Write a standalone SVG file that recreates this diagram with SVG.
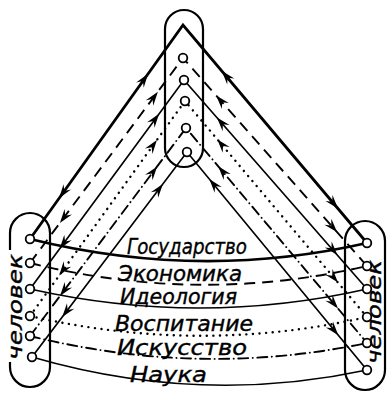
<svg xmlns="http://www.w3.org/2000/svg" xmlns:xlink="http://www.w3.org/1999/xlink" width="387" height="393" viewBox="0 0 387 393">
<style>
  .ln { fill: none; stroke: #000; }
  .s0 { stroke-width: 2.8; }
  .s1 { stroke-width: 1.9; stroke-dasharray: 11 7; }
  .s2 { stroke-width: 1.7; }
  .s3 { stroke-width: 2.4; stroke-dasharray: 0.1 6.5; stroke-linecap: round; }
  .s4 { stroke-width: 1.9; stroke-dasharray: 10 4.5 0.1 4.5; stroke-linecap: round; }
  .s5 { stroke-width: 1.7; }
  .cap { fill: none; stroke: #000; stroke-width: 2.2; }
  .nd { fill: #fff; stroke: #000; stroke-width: 1.8; }
  .lbl { font-family: "DejaVu Sans", "Liberation Sans", sans-serif; font-style: italic; font-size: 22px; fill: #000; stroke: #000; stroke-width: 0.4; }
  .hum { font-family: "DejaVu Sans", "Liberation Sans", sans-serif; font-style: italic; font-size: 20px; fill: #000; stroke: #000; stroke-width: 0.4; }
</style>
<defs>
  <path id="ah" d="M0,0 L-14,-4.6 L-9,0 L-14,4.6 Z" fill="#000"/>
</defs>

<g id="connectors">
  <path class="ln s0" d="M30,239 L183,25 L367,243"/>
  <path class="ln s1" d="M30,263 L183,58 L367,266"/>
  <path class="ln s2" d="M30,289 L184,80 L367,289"/>
  <path class="ln s3" d="M30,316 L185,101 L367,317"/>
  <path class="ln s4" d="M30,336 L186,128 L367,343"/>
  <path class="ln s5" d="M32,357 L187,152 L367,370"/>
  <path class="ln s0" d="M30,239 Q200,281 367,243"/>
  <path class="ln s1" d="M30,263 Q200,305 367,266"/>
  <path class="ln s2" d="M30,289 Q200,327 367,289"/>
  <path class="ln s3" d="M30,316 Q200,355 367,317"/>
  <path class="ln s4" d="M30,336 Q200,378 367,343"/>
  <path class="ln s5" d="M32,357 Q200,406 367,370"/>
  <use xlink:href="#ah" transform="translate(148.1,73.8) rotate(-54.4)"/>
  <use xlink:href="#ah" transform="translate(157.9,91.7) rotate(-53.3)"/>
  <use xlink:href="#ah" transform="translate(159.1,113.8) rotate(-53.6)"/>
  <use xlink:href="#ah" transform="translate(156.9,139.9) rotate(-54.2)"/>
  <use xlink:href="#ah" transform="translate(157.2,166.4) rotate(-53.1)"/>
  <use xlink:href="#ah" transform="translate(162.9,183.9) rotate(-52.9)"/>
  <use xlink:href="#ah" transform="translate(59.1,198.3) rotate(125.6)"/>
  <use xlink:href="#ah" transform="translate(59.9,222.9) rotate(126.7)"/>
  <use xlink:href="#ah" transform="translate(59.7,248.7) rotate(126.4)"/>
  <use xlink:href="#ah" transform="translate(59.2,275.4) rotate(125.8)"/>
  <use xlink:href="#ah" transform="translate(60,296) rotate(126.9)"/>
  <use xlink:href="#ah" transform="translate(62.2,317.1) rotate(127.1)"/>
  <use xlink:href="#ah" transform="translate(221.7,70.8) rotate(-130.2)"/>
  <use xlink:href="#ah" transform="translate(216.1,95.5) rotate(-131.5)"/>
  <use xlink:href="#ah" transform="translate(216.9,117.6) rotate(-131.2)"/>
  <use xlink:href="#ah" transform="translate(217.2,139.2) rotate(-130.1)"/>
  <use xlink:href="#ah" transform="translate(218.2,166.3) rotate(-130.1)"/>
  <use xlink:href="#ah" transform="translate(209.3,179) rotate(-129.5)"/>
  <use xlink:href="#ah" transform="translate(338,208.6) rotate(49.8)"/>
  <use xlink:href="#ah" transform="translate(337.2,232.3) rotate(48.5)"/>
  <use xlink:href="#ah" transform="translate(337.4,255.1) rotate(48.8)"/>
  <use xlink:href="#ah" transform="translate(338,282.6) rotate(49.9)"/>
  <use xlink:href="#ah" transform="translate(338,308.6) rotate(49.9)"/>
  <use xlink:href="#ah" transform="translate(338.3,335.3) rotate(50.5)"/>
</g>

<g id="top">
  <rect class="cap" x="165" y="10" width="38" height="157" rx="19"/>
  <circle class="nd" cx="183" cy="58" r="4.3"/>
  <circle class="nd" cx="184" cy="80" r="4.3"/>
  <circle class="nd" cx="185" cy="101" r="4.3"/>
  <circle class="nd" cx="186" cy="128" r="4.3"/>
  <circle class="nd" cx="187" cy="152" r="4.3"/>
</g>

<g id="left-person">
  <path class="cap" d="M10,250 V233 A20,20 0 0 1 50,233 V367 A20,20 0 0 1 10,367 V362"/>
  <circle class="nd" cx="30" cy="239" r="4.3"/>
  <circle class="nd" cx="30" cy="263" r="4.3"/>
  <circle class="nd" cx="30" cy="289" r="4.3"/>
  <circle class="nd" cx="30" cy="316" r="4.3"/>
  <circle class="nd" cx="30" cy="336" r="4.3"/>
  <circle class="nd" cx="32" cy="357" r="4.3"/>
  <text class="hum" transform="translate(22,360) rotate(-90)" textLength="106" lengthAdjust="spacingAndGlyphs">человек</text>
</g>

<g id="right-person">
  <rect class="cap" x="345" y="221" width="40" height="169" rx="20"/>
  <circle class="nd" cx="367" cy="243" r="4.3"/>
  <circle class="nd" cx="367" cy="266" r="4.3"/>
  <circle class="nd" cx="367" cy="289" r="4.3"/>
  <circle class="nd" cx="367" cy="317" r="4.3"/>
  <circle class="nd" cx="367" cy="343" r="4.3"/>
  <circle class="nd" cx="367" cy="370" r="4.3"/>
  <text class="hum" transform="translate(381,364) rotate(-90)" textLength="104" lengthAdjust="spacingAndGlyphs">человек</text>
</g>

<g id="labels">
  <text class="lbl" x="127" y="254" textLength="120" lengthAdjust="spacingAndGlyphs">Государство</text>
  <text class="lbl" x="118" y="281" textLength="124" lengthAdjust="spacingAndGlyphs">Экономика</text>
  <text class="lbl" x="120" y="304" textLength="117" lengthAdjust="spacingAndGlyphs">Идеология</text>
  <text class="lbl" x="115" y="331" textLength="138" lengthAdjust="spacingAndGlyphs">Воспитание</text>
  <text class="lbl" x="117" y="355" textLength="130" lengthAdjust="spacingAndGlyphs">Искусство</text>
  <text class="lbl" x="130" y="382" textLength="77" lengthAdjust="spacingAndGlyphs">Наука</text>
</g>
</svg>
